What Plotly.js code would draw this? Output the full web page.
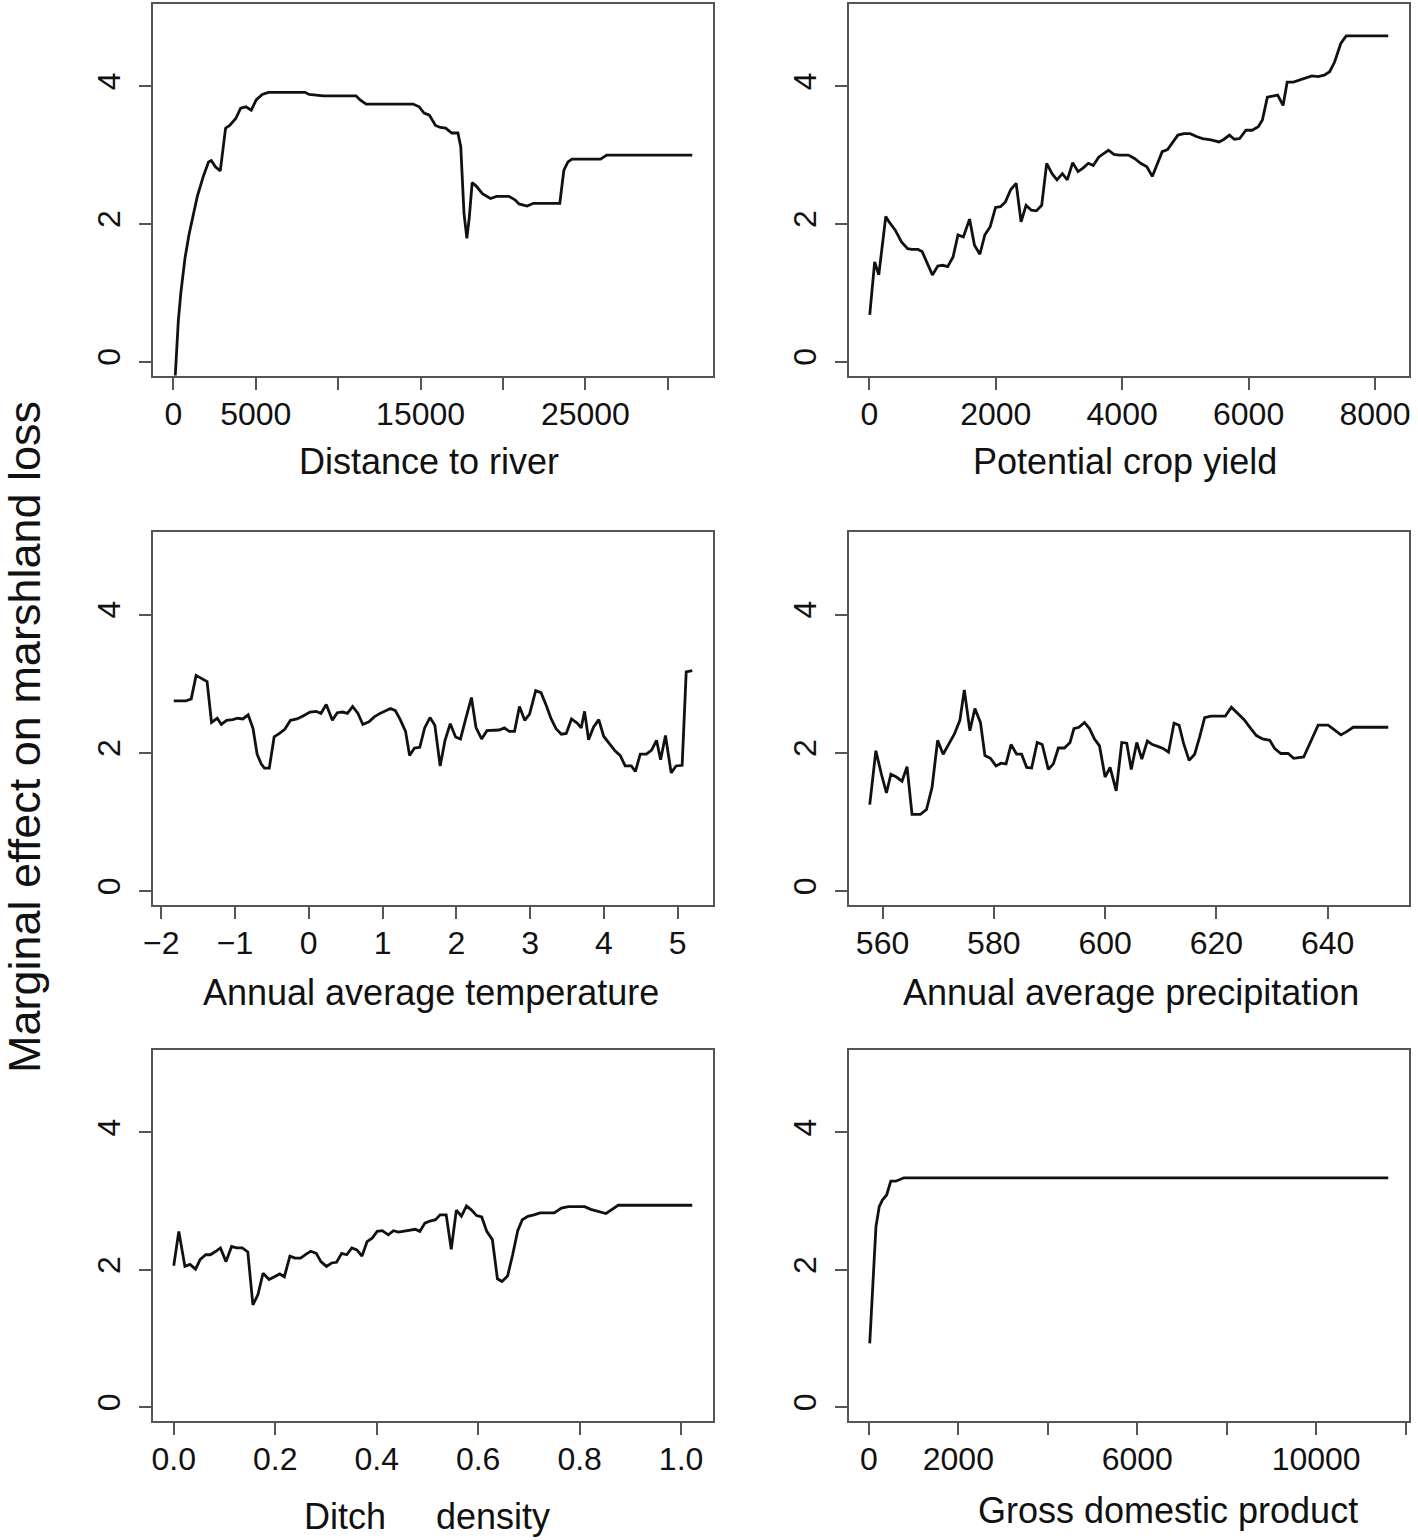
<!DOCTYPE html>
<html>
<head>
<meta charset="utf-8">
<script src="https://cdn.plot.ly/plotly-3.0.1.min.js"></script>
<style>
  html, body { margin: 0; padding: 0; background: #ffffff; }
  #chart { width: 1418px; height: 1540px; }
</style>
</head>
<body>
<div id="chart"></div>
<script>
// ---------------- Data ----------------
// Panel 1: Distance to river
const distX = [20, 200, 300, 450, 700, 950, 1200, 1450, 1800, 2130, 2300, 2548, 2844, 3166, 3413, 3784, 4081, 4402, 4724, 5021, 5392, 5763, 7989, 8236, 9102, 11081, 11328, 11699, 14544, 14915, 15211, 15533, 15904, 16201, 16522, 16893, 17264, 17438, 17635, 17809, 17957, 18130, 18377, 18748, 19243, 19614, 20356, 20727, 20974, 21469, 21840, 23448, 23695, 23943, 24190, 25921, 26292, 31486];
const distY = [-0.6, 0.2, 0.6, 1.0, 1.5, 1.85, 2.15, 2.4, 2.68, 2.9, 2.92, 2.83, 2.77, 3.39, 3.43, 3.53, 3.68, 3.70, 3.65, 3.80, 3.88, 3.91, 3.91, 3.88, 3.86, 3.86, 3.80, 3.74, 3.74, 3.70, 3.61, 3.58, 3.43, 3.40, 3.39, 3.32, 3.32, 3.12, 2.15, 1.79, 2.10, 2.60, 2.55, 2.44, 2.37, 2.40, 2.40, 2.35, 2.29, 2.26, 2.30, 2.30, 2.78, 2.90, 2.94, 2.94, 3.00, 3.00];

// Panel 2: Potential crop yield
const cropX = [7, 85, 150, 261, 313, 411, 509, 607, 672, 770, 835, 914, 998, 1083, 1161, 1240, 1325, 1403, 1488, 1586, 1664, 1749, 1827, 1912, 1997, 2075, 2153, 2238, 2323, 2401, 2480, 2564, 2643, 2727, 2806, 2891, 2969, 3054, 3132, 3217, 3302, 3380, 3465, 3543, 3628, 3706, 3784, 3869, 3954, 4098, 4196, 4293, 4391, 4476, 4554, 4633, 4718, 4796, 4881, 4979, 5077, 5174, 5272, 5403, 5533, 5612, 5696, 5775, 5859, 5957, 6055, 6153, 6218, 6297, 6382, 6460, 6545, 6610, 6708, 6806, 6903, 7001, 7099, 7197, 7282, 7360, 7458, 7543, 8209];
const cropY = [0.68, 1.45, 1.26, 2.11, 2.03, 1.91, 1.74, 1.64, 1.63, 1.63, 1.60, 1.43, 1.26, 1.39, 1.40, 1.38, 1.52, 1.84, 1.81, 2.07, 1.69, 1.56, 1.84, 1.96, 2.24, 2.25, 2.32, 2.50, 2.59, 2.03, 2.27, 2.20, 2.19, 2.27, 2.88, 2.73, 2.64, 2.73, 2.64, 2.89, 2.76, 2.81, 2.88, 2.85, 2.97, 3.02, 3.07, 3.01, 3.00, 3.00, 2.95, 2.88, 2.83, 2.69, 2.88, 3.05, 3.08, 3.19, 3.29, 3.31, 3.31, 3.27, 3.24, 3.22, 3.19, 3.23, 3.29, 3.23, 3.24, 3.36, 3.36, 3.41, 3.51, 3.84, 3.85, 3.87, 3.72, 4.06, 4.06, 4.09, 4.11, 4.15, 4.14, 4.16, 4.21, 4.35, 4.62, 4.73, 4.73];

// Panel 3: Annual average temperature
const tempX = [-1.830, -1.665, -1.593, -1.527, -1.461, -1.378, -1.318, -1.240, -1.185, -1.114, -1.031, -0.965, -0.893, -0.821, -0.755, -0.700, -0.645, -0.601, -0.535, -0.469, -0.397, -0.325, -0.248, -0.160, -0.083, 0.017, 0.099, 0.165, 0.237, 0.320, 0.386, 0.458, 0.524, 0.595, 0.667, 0.733, 0.816, 0.888, 0.965, 1.036, 1.108, 1.174, 1.240, 1.312, 1.367, 1.433, 1.505, 1.571, 1.643, 1.709, 1.781, 1.847, 1.918, 1.990, 2.056, 2.122, 2.205, 2.266, 2.343, 2.415, 2.497, 2.580, 2.652, 2.718, 2.789, 2.856, 2.927, 2.993, 3.076, 3.148, 3.214, 3.286, 3.352, 3.424, 3.490, 3.561, 3.638, 3.693, 3.738, 3.793, 3.859, 3.931, 3.997, 4.068, 4.151, 4.223, 4.289, 4.372, 4.427, 4.493, 4.576, 4.647, 4.714, 4.769, 4.835, 4.912, 4.978, 5.061, 5.116, 5.198];
const tempY = [2.75, 2.75, 2.78, 3.12, 3.08, 3.03, 2.44, 2.50, 2.41, 2.47, 2.48, 2.50, 2.49, 2.55, 2.35, 1.98, 1.84, 1.78, 1.78, 2.23, 2.28, 2.34, 2.47, 2.49, 2.53, 2.59, 2.60, 2.57, 2.70, 2.47, 2.58, 2.59, 2.57, 2.67, 2.57, 2.41, 2.45, 2.52, 2.57, 2.61, 2.64, 2.61, 2.48, 2.31, 1.96, 2.07, 2.08, 2.36, 2.51, 2.40, 1.81, 2.18, 2.42, 2.23, 2.20, 2.47, 2.80, 2.37, 2.20, 2.32, 2.33, 2.33, 2.36, 2.31, 2.31, 2.67, 2.47, 2.56, 2.90, 2.87, 2.70, 2.49, 2.35, 2.27, 2.28, 2.49, 2.43, 2.36, 2.60, 2.19, 2.37, 2.48, 2.24, 2.14, 2.03, 1.96, 1.81, 1.81, 1.73, 1.98, 1.98, 2.04, 2.18, 1.90, 2.25, 1.71, 1.81, 1.82, 3.17, 3.19];

// Panel 4: Annual average precipitation
const precX = [557.7, 558.8, 559.8, 560.7, 561.5, 562.5, 563.5, 564.4, 565.3, 566.8, 567.9, 568.9, 569.9, 570.9, 572.0, 572.9, 573.9, 574.7, 575.7, 576.6, 577.6, 578.4, 579.4, 580.4, 581.3, 582.2, 583.1, 584.1, 585.0, 585.9, 586.8, 587.8, 588.7, 589.8, 590.7, 591.6, 592.7, 593.7, 594.4, 595.3, 596.3, 597.2, 598.1, 599.0, 600.0, 600.9, 602.0, 603.0, 603.9, 604.7, 605.7, 606.6, 607.6, 608.5, 609.6, 610.5, 611.4, 612.4, 613.3, 614.1, 615.1, 616.1, 617.0, 617.9, 619.0, 621.6, 622.7, 623.9, 625.0, 626.1, 627.2, 628.3, 629.6, 630.5, 631.6, 632.9, 633.9, 635.7, 637.0, 638.3, 640.1, 641.2, 642.4, 643.5, 644.6, 650.9];
const precY = [1.25, 2.03, 1.69, 1.42, 1.69, 1.65, 1.59, 1.80, 1.11, 1.11, 1.18, 1.50, 2.18, 1.98, 2.14, 2.27, 2.47, 2.91, 2.32, 2.64, 2.44, 1.96, 1.92, 1.81, 1.85, 1.84, 2.12, 1.98, 1.98, 1.79, 1.78, 2.15, 2.12, 1.76, 1.84, 2.07, 2.07, 2.15, 2.35, 2.37, 2.44, 2.35, 2.20, 2.10, 1.65, 1.79, 1.45, 2.15, 2.14, 1.76, 2.15, 1.91, 2.17, 2.12, 2.09, 2.06, 2.01, 2.43, 2.40, 2.14, 1.89, 1.98, 2.23, 2.51, 2.53, 2.53, 2.66, 2.57, 2.48, 2.36, 2.25, 2.20, 2.18, 2.06, 1.99, 1.99, 1.92, 1.94, 2.18, 2.40, 2.40, 2.33, 2.26, 2.31, 2.37, 2.37];

// Panel 5: Ditch density
const ditchX = [0.000, 0.010, 0.022, 0.032, 0.043, 0.052, 0.063, 0.072, 0.083, 0.092, 0.103, 0.114, 0.124, 0.135, 0.146, 0.156, 0.166, 0.176, 0.188, 0.198, 0.209, 0.218, 0.229, 0.239, 0.250, 0.261, 0.270, 0.281, 0.290, 0.301, 0.311, 0.321, 0.331, 0.341, 0.351, 0.361, 0.371, 0.381, 0.391, 0.401, 0.411, 0.423, 0.433, 0.443, 0.453, 0.465, 0.476, 0.485, 0.495, 0.505, 0.516, 0.525, 0.537, 0.547, 0.557, 0.567, 0.577, 0.587, 0.597, 0.607, 0.617, 0.628, 0.638, 0.647, 0.658, 0.668, 0.678, 0.687, 0.698, 0.710, 0.722, 0.750, 0.764, 0.778, 0.810, 0.822, 0.838, 0.852, 0.864, 0.876, 1.022];
const ditchY = [2.06, 2.56, 2.05, 2.08, 2.01, 2.15, 2.22, 2.22, 2.27, 2.32, 2.12, 2.34, 2.32, 2.32, 2.26, 1.49, 1.64, 1.95, 1.86, 1.90, 1.94, 1.90, 2.20, 2.17, 2.17, 2.23, 2.27, 2.24, 2.12, 2.05, 2.10, 2.11, 2.24, 2.22, 2.32, 2.29, 2.20, 2.41, 2.46, 2.56, 2.57, 2.51, 2.57, 2.55, 2.56, 2.58, 2.59, 2.56, 2.68, 2.71, 2.73, 2.80, 2.80, 2.30, 2.87, 2.78, 2.93, 2.87, 2.79, 2.77, 2.56, 2.44, 1.87, 1.83, 1.91, 2.22, 2.57, 2.73, 2.78, 2.80, 2.83, 2.83, 2.90, 2.92, 2.92, 2.88, 2.85, 2.82, 2.88, 2.94, 2.94];

// Panel 6: Gross domestic product
const gdpX = [18, 65, 111, 157, 230, 304, 396, 488, 599, 691, 783, 11613];
const gdpY = [0.93, 1.47, 2.05, 2.63, 2.92, 3.02, 3.09, 3.29, 3.29, 3.32, 3.34, 3.34];

// Axis titles and ticks
const xTitles = ["Distance to river", "Potential crop yield", "Annual average temperature",
                 "Annual average precipitation", "Ditch\u00A0\u00A0\u00A0\u00A0\u00A0density", "Gross domestic product"];
const yTitle = "Marginal effect on marshland loss";
const yTickVals = [0, 2, 4];
const distTickVals = [0, 5000, 10000, 15000, 20000, 25000, 30000];
const distTickText = ["0", "5000", "", "15000", "", "25000", ""];
const cropTickVals = [0, 2000, 4000, 6000, 8000];
const tempTickVals = [-2, -1, 0, 1, 2, 3, 4, 5];
const precTickVals = [560, 580, 600, 620, 640];
const ditchTickVals = [0, 0.2, 0.4, 0.6, 0.8, 1.0];
const ditchTickText = ["0.0", "0.2", "0.4", "0.6", "0.8", "1.0"];
const gdpTickVals = [0, 2000, 4000, 6000, 8000, 10000, 12000];
const gdpTickText = ["0", "2000", "", "6000", "", "10000", ""];

// ---------------- Layout geometry ----------------
const W = 1418, H = 1540;
const colPx = [[153, 713], [849, 1409]];
const rowPx = [[3.5, 375.5], [531.5, 905], [1050, 1421]];
const FONT = "Liberation Sans, Arial, Helvetica, sans-serif";

function xdom(c) { return [colPx[c][0] / W, colPx[c][1] / W]; }
function ydom(r) { return [1 - rowPx[r][1] / H, 1 - rowPx[r][0] / H]; }
function padRange(arr) {
  const mn = Math.min(...arr), mx = Math.max(...arr), r = mx - mn;
  return [mn - 0.04 * r, mx + 0.04 * r];
}

const series = [
  {x: distX, y: distY, tv: distTickVals, tt: distTickText},
  {x: cropX, y: cropY, tv: cropTickVals, tt: cropTickVals.map(String)},
  {x: tempX, y: tempY, tv: tempTickVals, tt: tempTickVals.map(v => v < 0 ? "\u2212" + Math.abs(v) : String(v))},
  {x: precX, y: precY, tv: precTickVals, tt: precTickVals.map(String)},
  {x: ditchX, y: ditchY, tv: ditchTickVals, tt: ditchTickText},
  {x: gdpX, y: gdpY, tv: gdpTickVals, tt: gdpTickText}
];

// x-title positions (pixel centers)
const titlePos = [[429, 461], [1125, 461], [431, 992], [1131, 992], [427, 1516], [1168, 1510]];

const data = [];
const layout = {
  width: W, height: H,
  margin: {l: 0, r: 0, t: 0, b: 0},
  paper_bgcolor: "#ffffff",
  plot_bgcolor: "#ffffff",
  showlegend: false,
  font: {family: FONT, color: "#111111"},
  annotations: []
};

const axisCommon = {
  showline: true, mirror: true, linecolor: "#555555", linewidth: 2,
  ticks: "outside", ticklen: 12, tickwidth: 2, tickcolor: "#555555",
  showgrid: false, zeroline: false, fixedrange: true,
  tickfont: {family: FONT, size: 32, color: "#111111"},
  tickmode: "array", automargin: false
};

series.forEach((s, i) => {
  const r = Math.floor(i / 2), c = i % 2;
  const xa = i === 0 ? "xaxis" : "xaxis" + (i + 1);
  const ya = i === 0 ? "yaxis" : "yaxis" + (i + 1);
  const xr = i === 0 ? "x" : "x" + (i + 1);
  const yr = i === 0 ? "y" : "y" + (i + 1);
  data.push({
    type: "scatter", mode: "lines", x: s.x, y: s.y, xaxis: xr, yaxis: yr,
    line: {color: "#111111", width: 2.8}, hoverinfo: "skip"
  });
  layout[xa] = Object.assign({}, axisCommon, {
    domain: xdom(c), anchor: yr, range: padRange(s.x),
    tickvals: s.tv, ticktext: s.tt, ticklabelstandoff: -3
  });
  layout[ya] = Object.assign({}, axisCommon, {
    domain: ydom(r), anchor: xr, range: [-0.2, 5.2],
    tickvals: yTickVals, ticktext: yTickVals.map(String), tickangle: -90,
    ticklabelstandoff: 6
  });
  layout.annotations.push({
    xref: "paper", yref: "paper",
    x: titlePos[i][0] / W, y: 1 - titlePos[i][1] / H,
    xanchor: "center", yanchor: "middle", showarrow: false,
    text: xTitles[i], font: {family: FONT, size: 36, color: "#111111"}
  });
});

layout.annotations.push({
  xref: "paper", yref: "paper", x: 24 / W, y: 1 - 737 / H,
  xanchor: "center", yanchor: "middle", showarrow: false, textangle: -90,
  text: yTitle, font: {family: FONT, size: 45, color: "#111111"}
});

Plotly.newPlot("chart", data, layout, {staticPlot: true, displayModeBar: false});
</script>
</body>
</html>
